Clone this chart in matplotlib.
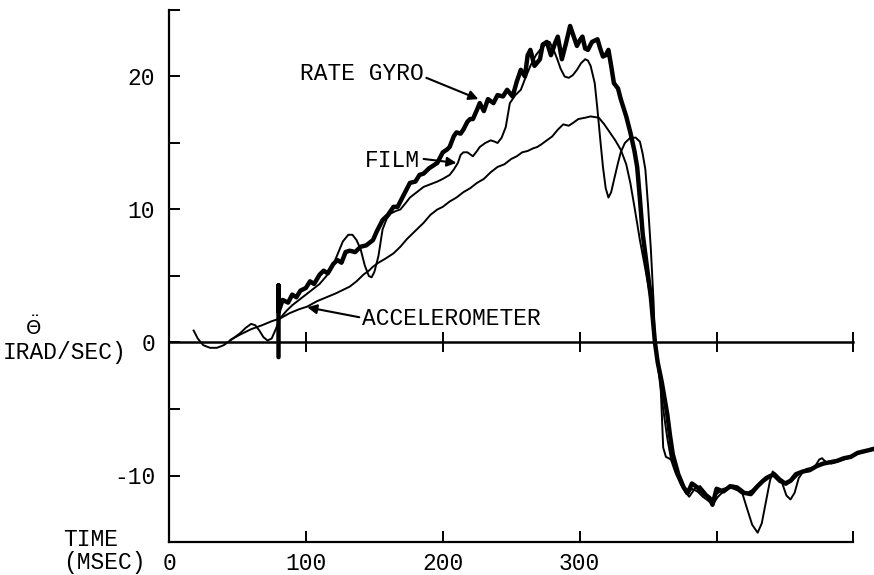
import matplotlib
matplotlib.use("Agg")
import matplotlib.pyplot as plt
from matplotlib.ticker import FixedLocator

# ---------------- data (time in ms, angular acceleration in rad/s^2) ----------------
gyro_t = [80, 80, 80, 83, 87, 90, 93, 96, 100, 103, 106, 110, 113, 116, 120, 123, 126, 129, 132, 136,
          140, 144, 149, 152, 156, 160, 164, 167, 171, 176, 180, 183, 186, 190, 193, 196, 200, 203, 205,
          208, 210, 213, 215, 218, 220, 222, 225, 227, 230, 233, 237, 240, 244, 247, 251, 254, 257, 260,
          262, 264, 267, 271, 273, 276, 279, 282, 284, 287, 290, 293, 296, 298, 300, 302, 304, 306, 309,
          313, 315, 317, 319, 321, 323, 325, 328, 330, 334, 337, 340, 342, 344, 346, 349, 352, 355, 357,
          360, 364, 366, 368, 372, 376, 379, 382, 386, 390, 395, 397, 400, 405, 410, 415, 420, 425, 430,
          434, 438, 442, 446, 450, 454, 458, 463, 468, 473, 478, 483, 488, 493, 498, 503, 507, 511, 515]
gyro_v = [-1.1, 4.3, 2.3, 3.2, 3.0, 3.6, 3.4, 3.9, 4.1, 4.6, 4.4, 5.1, 5.4, 5.2, 5.9, 6.2, 6.0, 6.8, 6.9, 6.8,
          7.2, 7.3, 7.7, 8.4, 9.2, 9.6, 10.2, 10.2, 11.0, 12.0, 12.1, 12.6, 12.7, 13.1, 13.3, 13.5, 14.3, 14.5, 14.7,
          15.5, 15.8, 15.7, 16.0, 16.6, 16.8, 16.8, 17.5, 18.0, 17.4, 18.3, 18.0, 18.6, 18.5, 19.0, 18.5, 19.6, 20.5, 20.0,
          21.6, 22.0, 20.8, 21.3, 22.4, 22.6, 21.6, 22.5, 23.0, 21.3, 22.5, 23.8, 22.9, 22.3, 22.7, 23.0, 22.1, 22.0, 22.6,
          22.8, 22.1, 21.5, 21.6, 22.0, 20.8, 19.5, 19.1, 18.3, 17.0, 15.8, 14.4, 13.2, 10.8, 8.2, 5.8, 3.4, 0.0, -1.5,
          -3.0, -5.4, -7.0, -8.4, -9.9, -10.9, -11.3, -10.6, -10.9, -11.3, -11.7, -12.2, -11.0, -11.2, -10.8, -10.9, -11.3, -11.4, -10.8,
          -10.4, -10.1, -9.9, -10.3, -10.6, -10.4, -9.9, -9.7, -9.6, -9.3, -9.1, -9.0, -8.9, -8.7, -8.6, -8.3, -8.2, -8.1, -8.0]

film_t = [18, 21, 25, 30, 35, 40, 44, 48, 52, 56, 60, 63, 66, 69, 72, 75, 78, 81, 86, 90, 95, 100, 105, 110,
          115, 119, 123, 127, 131, 134, 137, 140, 143, 146, 148, 150, 153, 156, 159, 162, 166, 169, 173, 176,
          181, 186, 191, 196, 200, 205, 208, 211, 213, 215, 218, 222, 225, 227, 231, 235, 238, 240, 243, 246,
          249, 253, 257, 260, 264, 268, 271, 275, 278, 281, 284, 286, 289, 292, 295, 298, 301, 304, 306, 308,
          311, 313, 315, 317, 319, 321, 323, 325, 328, 330, 333, 337, 341, 344, 346, 348, 350, 352, 354, 355,
          357, 359, 360, 361, 363, 365, 368, 371, 374, 377, 380, 384, 388, 392, 396, 400, 405, 410, 415, 419,
          422, 426, 430, 433, 436, 439, 441, 444, 448, 451, 454, 457, 460, 464, 468, 472, 475, 477, 480, 484,
          490, 496, 502, 508, 515]
film_v = [0.9, 0.3, -0.2, -0.4, -0.4, -0.2, 0.1, 0.4, 0.7, 1.1, 1.4, 1.3, 0.9, 0.4, 0.15, 0.3, 1.0, 1.8, 2.4, 2.8, 3.2, 3.6, 4.0, 4.4,
          5.0, 5.6, 6.6, 7.6, 8.1, 8.1, 7.7, 7.0, 5.8, 5.0, 4.9, 5.3, 6.5, 8.5, 9.3, 9.7, 9.9, 10.0, 10.5, 10.9,
          11.3, 11.7, 11.9, 12.1, 12.3, 12.6, 13.0, 13.5, 14.1, 14.3, 14.3, 14.0, 14.4, 14.7, 15.0, 15.2, 15.1, 15.0, 15.4, 16.2,
          18.0, 18.6, 19.0, 19.8, 20.8, 21.6, 22.0, 22.4, 22.6, 22.0, 21.2, 20.6, 20.0, 19.9, 20.1, 20.5, 21.0, 21.3, 21.2, 20.8,
          19.5, 17.5, 15.3, 13.2, 11.6, 10.9, 11.3, 12.2, 13.5, 14.3, 15.0, 15.4, 15.4, 15.1, 14.2, 13.0, 10.2, 7.0, 3.0, 0.0,
          -1.5, -2.9, -5.5, -7.9, -8.6, -8.7, -8.9, -9.6, -10.4, -11.2, -11.6, -11.0, -10.8, -11.3, -12.0, -11.4, -11.0, -10.9, -11.1, -11.4,
          -12.4, -13.7, -14.3, -13.6, -12.0, -10.4, -9.7, -10.0, -10.6, -11.5, -11.8, -11.3, -10.2, -9.6, -9.5, -9.3, -8.8, -8.7, -9.0, -9.1,
          -8.9, -8.7, -8.4, -8.2, -8.0]

accel_t = [45, 52, 60, 68, 75, 81, 88, 95, 101, 108, 115, 122, 128, 132, 137, 142, 146, 149, 153, 158, 164,
           169, 174, 178, 181, 186, 191, 196, 200, 205, 210, 215, 220, 225, 230, 235, 240, 245, 250, 254, 258,
           262, 266, 269, 272, 276, 280, 284, 288, 292, 295, 299, 304, 308, 314, 318, 322, 326, 330, 334, 337,
           340, 344, 348, 352, 355, 358, 361, 364, 367, 370, 374, 378, 382, 386, 390, 394, 397, 401, 406, 411,
           416, 421, 426, 431, 436, 441, 446, 451, 456, 461, 466, 471, 477, 483, 490, 497, 504, 510, 515]
accel_v = [0.2, 0.6, 1.0, 1.3, 1.6, 1.8, 2.2, 2.5, 2.7, 3.1, 3.4, 3.7, 4.0, 4.2, 4.6, 5.1, 5.4, 5.7, 6.0, 6.3, 6.7,
           7.2, 7.8, 8.2, 8.5, 9.0, 9.6, 10.0, 10.2, 10.6, 10.9, 11.3, 11.6, 12.0, 12.3, 12.8, 13.2, 13.4, 13.8, 14.0, 14.3,
           14.4, 14.6, 14.7, 14.9, 15.2, 15.5, 16.0, 16.4, 16.3, 16.5, 16.8, 16.9, 17.0, 16.9, 16.4, 15.8, 15.2, 14.5, 13.4, 12.0,
           10.2, 7.7, 5.5, 3.2, 0.4, -2.5, -5.0, -7.2, -8.9, -9.8, -10.7, -11.4, -11.0, -11.2, -11.6, -11.9, -12.2, -11.6, -11.1, -10.9,
           -11.1, -11.4, -11.1, -10.6, -10.1, -10.0, -10.5, -10.7, -10.3, -9.8, -9.5, -9.4, -9.2, -9.0, -8.8, -8.6, -8.3, -8.1, -7.9]

x_ticks = [0, 100, 200, 300, 400, 500]
x_tick_labels = ["0", "100", "200", "300", "", ""]
y_major = [-10, 0, 10, 20]
y_minor = [-5, 5, 15, 25]

FONT = "Liberation Mono"
FS = 16.5

fig = plt.figure(figsize=(8.74, 5.75), dpi=100)
ax = fig.add_axes([169 / 874, 33 / 575, 705 / 874, 532 / 575])
ax.set_xlim(0, 515)
ax.set_ylim(-15, 25)

ax.plot(accel_t, accel_v, color="black", lw=1.4, solid_joinstyle="round")
ax.plot(film_t, film_v, color="black", lw=1.4, solid_joinstyle="round")
ax.plot(gyro_t, gyro_v, color="black", lw=3.2, solid_joinstyle="round", solid_capstyle="round")

# spines
for s in ["top", "right"]:
    ax.spines[s].set_visible(False)
ax.spines["left"].set_bounds(-15, 25)
ax.spines["left"].set_linewidth(1.6)
ax.spines["bottom"].set_bounds(0, 500)
ax.spines["bottom"].set_linewidth(1.6)

ax.xaxis.set_major_locator(FixedLocator(x_ticks))
ax.set_xticklabels(x_tick_labels, fontfamily=FONT, fontsize=FS)
ax.tick_params(axis="x", direction="in", length=8, width=1.4, pad=7)

ax.yaxis.set_major_locator(FixedLocator(y_major))
ax.yaxis.set_minor_locator(FixedLocator(y_minor))
ax.set_yticklabels([str(v) for v in y_major], fontfamily=FONT, fontsize=FS)
ax.tick_params(axis="y", which="both", direction="in", length=8, width=1.4, pad=10)

# zero reference axis with crossing ticks
sec = ax.secondary_xaxis(15 / 40)
sec.spines["bottom"].set_bounds(0, 500)
sec.spines["bottom"].set_linewidth(1.8)
sec.xaxis.set_major_locator(FixedLocator(x_ticks[1:]))
sec.set_xticklabels([""] * len(x_ticks[1:]))
sec.tick_params(axis="x", direction="inout", length=14, width=1.4)

# annotations
arrow = dict(arrowstyle="-|>", color="black", lw=1.5, mutation_scale=14, shrinkA=0, shrinkB=0)
ax.text(96, 20.2, "RATE GYRO", fontfamily=FONT, fontsize=FS, ha="left", va="center")
ax.annotate("", xy=(226, 18.3), xytext=(188, 19.9), arrowprops=arrow)
ax.text(143, 13.7, "FILM", fontfamily=FONT, fontsize=FS, ha="left", va="center")
ax.annotate("", xy=(210, 13.5), xytext=(186, 13.8), arrowprops=arrow)
ax.text(141, 1.8, "ACCELEROMETER", fontfamily=FONT, fontsize=FS, ha="left", va="center")
ax.annotate("", xy=(101, 2.65), xytext=(139, 1.9), arrowprops=arrow)

# axis titles
fig.text(33 / 874, 1 - 327 / 575, r"$\ddot{\Theta}$", fontsize=14, ha="center", va="center")
fig.text(3 / 874, 1 - 352 / 575, "IRAD/SEC)", fontfamily=FONT, fontsize=FS, ha="left", va="center")
fig.text(63 / 874, 1 - 540 / 575, "TIME", fontfamily=FONT, fontsize=FS, ha="left", va="center")
fig.text(63 / 874, 1 - 563 / 575, "(MSEC)", fontfamily=FONT, fontsize=FS, ha="left", va="center")

fig.savefig("out.png", dpi=100)
